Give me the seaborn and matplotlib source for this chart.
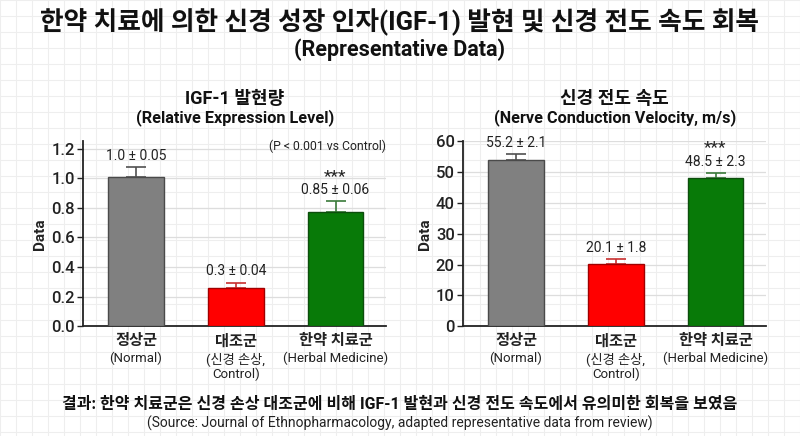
import numpy as np
import pandas as pd
import seaborn as sns
import matplotlib.pyplot as plt

# data
groups = ['정상군', '대조군', '한약 치료군']
groups_en = ['(Normal)', '(신경 손상,\nControl)', '(Herbal Medicine)']
igf_mean = [1.01, 0.255, 0.77]
igf_err = [0.066, 0.04, 0.077]
igf_text = ['1.0 ± 0.05', '0.3 ± 0.04', '0.85 ± 0.06']
ncv_mean = [54.0, 20.1, 48.2]
ncv_err = [1.9, 1.7, 1.6]
ncv_text = ['55.2 ± 2.1', '20.1 ± 1.8', '48.5 ± 2.3']
signif = ['', '', '***']

bar_colors = ['#808080', '#ff0000', '#087a08']
edge_colors = ['#4a4a4a', '#a00000', '#0d4d0d']
err_colors = ['#505050', '#c83030', '#3a7a3a']

sns.set_theme(style='white')
plt.rcParams['font.family'] = ['Roboto', 'Noto Sans CJK KR', 'DejaVu Sans']

fig = plt.figure(figsize=(8, 4.36), dpi=100)

# graph-paper background
bg = fig.add_axes([0, 0, 1, 1], zorder=-5)
bg.set_xlim(0, 800)
bg.set_ylim(436, 0)
bg.set_xticks(np.arange(0, 801, 16))
bg.set_yticks(np.arange(0, 437, 16))
bg.grid(True, color='#eeeeee', linewidth=0.8)
bg.tick_params(length=0, labelbottom=False, labelleft=False)
for s in bg.spines.values():
    s.set_visible(False)


def draw_panel(rect, means, errs, texts, ylim, yticks, fmt, title, subtitle, pnote=None):
    ax = fig.add_axes(rect)
    ax.set_facecolor('none')
    df = pd.DataFrame({'group': groups, 'value': means})
    sns.barplot(data=df, x='group', y='value', hue='group', palette=bar_colors,
                saturation=1, width=0.56, errorbar=None, legend=False, ax=ax, zorder=3)
    for patch, ec in zip(ax.patches, edge_colors):
        patch.set_edgecolor(ec)
        patch.set_linewidth(1.0)
    for i in range(len(groups)):
        ax.errorbar(i, means[i], yerr=[[0], [errs[i]]], color=err_colors[i],
                    capsize=7, elinewidth=1.2, capthick=1.2, zorder=2)
        ax.annotate(texts[i], (i, means[i] + errs[i]), xytext=(0, 3),
                    textcoords='offset points', ha='center', va='bottom',
                    fontsize=10, color='#222222')
        if signif[i]:
            ax.annotate(signif[i], (i, means[i] + errs[i]), xytext=(0, 14.5),
                        textcoords='offset points', ha='center', va='baseline',
                        fontsize=12.5, color='#222222')
    ax.set_xlim(-0.53, 2.51)
    ax.set_ylim(*ylim)
    ax.set_yticks(yticks)
    ax.set_yticklabels([fmt.format(t) for t in yticks], fontsize=12,
                       fontweight='medium', color='#222222')
    ax.yaxis.grid(True, color='#dddddd', linewidth=0.9, zorder=0)
    ax.set_axisbelow(True)
    sns.despine(ax=ax)
    for side in ['left', 'bottom']:
        ax.spines[side].set_color('#222222')
        ax.spines[side].set_linewidth(1.3)
    ax.tick_params(axis='y', left=True, length=4, width=1, color='#222222', pad=2)
    ax.tick_params(axis='x', bottom=False)
    ax.set_xticks(range(len(groups)))
    ax.set_xticklabels(groups, fontsize=11, fontweight='bold', color='#222222')
    ax.tick_params(axis='x', pad=0)
    xt = ax.get_xaxis_transform()
    for i, en in enumerate(groups_en):
        ax.text(i, -0.138, en, transform=xt, ha='center', va='top',
                fontsize=9.5, color='#222222', linespacing=1.15)
    ax.set_xlabel('')
    ax.set_ylabel('Data', fontsize=11, fontweight='bold', color='#222222', labelpad=3)
    ax.text(0.5, 1.23, title, transform=ax.transAxes, ha='center', va='center',
            fontsize=13, fontweight='bold', color='#111111')
    ax.text(0.5, 1.127, subtitle, transform=ax.transAxes, ha='center', va='center',
            fontsize=11.7, fontweight='bold', color='#111111')
    if pnote:
        ax.text(0.805, 0.975, pnote, transform=ax.transAxes, ha='center', va='center',
                fontsize=8.8, color='#222222')
    return ax


draw_panel([0.104, 0.252, 0.379, 0.424], igf_mean, igf_err, igf_text,
           (0, 1.25), [0, 0.2, 0.4, 0.6, 0.8, 1.0, 1.2], '{:.1f}',
           'IGF-1 발현량', '(Relative Expression Level)', '(P < 0.001 vs Control)')
draw_panel([0.579, 0.252, 0.379, 0.424], ncv_mean, ncv_err, ncv_text,
           (0, 60), [0, 10, 20, 30, 40, 50, 60], '{:.0f}',
           '신경 전도 속도', '(Nerve Conduction Velocity, m/s)')

fig.text(0.5, 1 - 22 / 436, '한약 치료에 의한 신경 성장 인자(IGF-1) 발현 및 신경 전도 속도 회복',
         ha='center', va='center', fontsize=18.5, fontweight='bold', color='#111111')
fig.text(0.5, 1 - 50 / 436, '(Representative Data)', ha='center', va='center',
         fontsize=15.5, fontweight='bold', color='#111111')
fig.text(0.5, 1 - 404 / 436,
         '결과: 한약 치료군은 신경 손상 대조군에 비해 IGF-1 발현과 신경 전도 속도에서 유의미한 회복을 보였음',
         ha='center', va='center', fontsize=11.5, fontweight='bold', color='#111111')
fig.text(0.5, 1 - 423 / 436,
         '(Source: Journal of Ethnopharmacology, adapted representative data from review)',
         ha='center', va='center', fontsize=10, color='#222222')

fig.savefig('out.png', dpi=100)
